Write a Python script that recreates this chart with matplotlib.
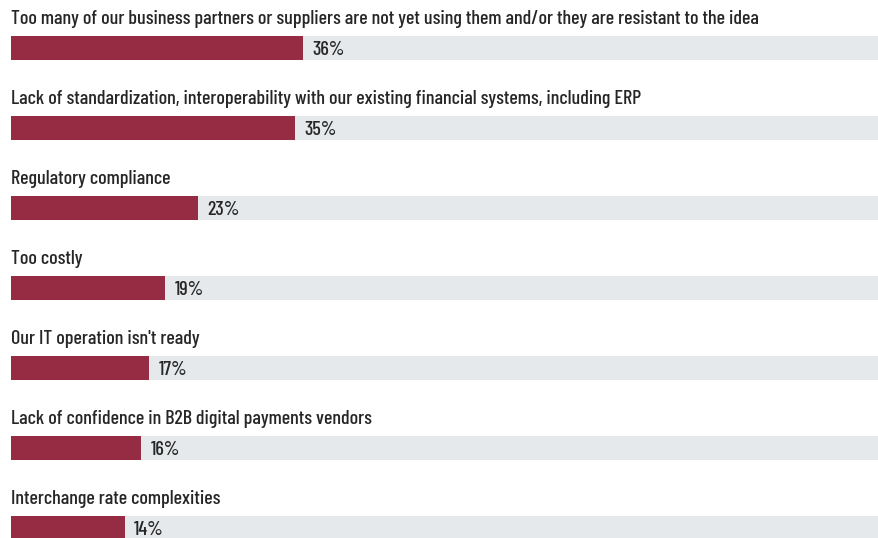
import matplotlib
matplotlib.use("Agg")
import matplotlib.pyplot as plt
from matplotlib import font_manager

# Survey answers and share of respondents (%)
labels = [
    "Too many of our business partners or suppliers are not yet using them and/or they are resistant to the idea",
    "Lack of standardization, interoperability with our existing financial systems, including ERP",
    "Regulatory compliance",
    "Too costly",
    "Our IT operation isn't ready",
    "Lack of confidence in B2B digital payments vendors",
    "Interchange rate complexities",
]
values = [36, 35, 23, 19, 17, 16, 14]

names = {f.name for f in font_manager.fontManager.ttflist}
family = "Barlow Condensed" if "Barlow Condensed" in names else "DejaVu Sans"
plt.rcParams["font.family"] = [family, "DejaVu Sans"]
plt.rcParams["font.weight"] = 500

fig = plt.figure(figsize=(8.79, 5.38), dpi=100)
ax = fig.add_axes([11 / 879, 0, 867 / 879, 1])

red = "#952c43"
track = "#e6e9ec"
ink = "#262626"

# pick a font size so the longest label runs about as wide as in the reference
probe = fig.text(0, 0, labels[0], fontsize=14)
fig.canvas.draw()
w = probe.get_window_extent().width
probe.remove()
fs = 14 * 747 / w

xmax = 867 / 8.11
ypos = list(range(len(values)))
ax.barh(ypos, [xmax] * len(values), height=0.3, color=track)
ax.barh(ypos, values, height=0.3, color=red)

for y, lab, v in zip(ypos, labels, values):
    ax.text(0, y - 0.36, lab, ha="left", va="center", fontsize=fs, color=ink)
    ax.text(v + 1.2, y + 0.03, f"{v}%", ha="left", va="center", fontsize=fs, color=ink)

ax.set_xlim(0, xmax)
ax.set_ylim(538 / 80 - 0.6, -0.6)
ax.axis("off")

fig.savefig("out.png", dpi=100)
